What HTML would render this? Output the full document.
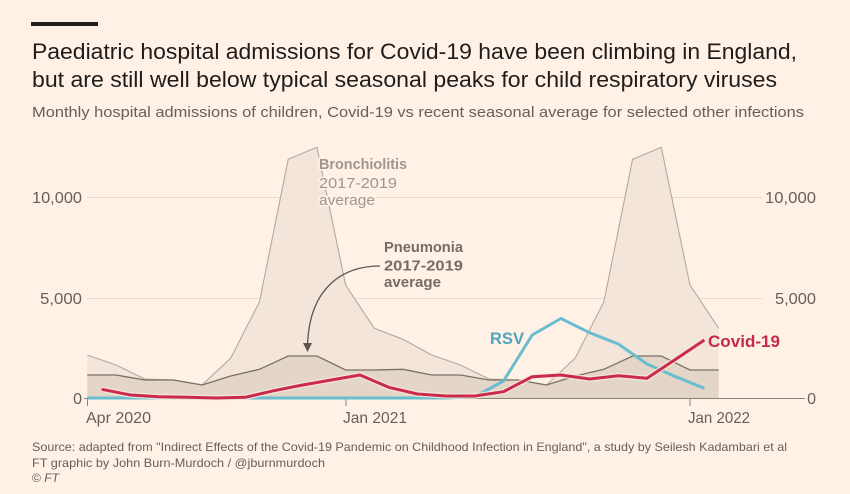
<!DOCTYPE html>
<html>
<head>
<meta charset="utf-8">
<style>
  html, body { margin:0; padding:0; background:#FFF1E5; }
  svg { display:block; }
  text { font-family: "Liberation Sans", "DejaVu Sans", sans-serif; }
</style>
</head>
<body>
<svg width="850" height="494" viewBox="0 0 850 494" xmlns="http://www.w3.org/2000/svg">
  <rect x="0" y="0" width="850" height="494" fill="#FFF1E5"/>

  <!-- top bar -->
  <rect x="31" y="22" width="67" height="4" fill="#1f1d1c"/>

  <!-- title -->
  <text x="32" y="59" font-size="22" fill="#1f1d1c" textLength="765" lengthAdjust="spacingAndGlyphs">Paediatric hospital admissions for Covid-19 have been climbing in England,</text>
  <text x="32" y="87" font-size="22" fill="#1f1d1c" textLength="745" lengthAdjust="spacingAndGlyphs">but are still well below typical seasonal peaks for child respiratory viruses</text>
  <text x="32" y="117" font-size="15" fill="#66605C" textLength="772" lengthAdjust="spacingAndGlyphs">Monthly hospital admissions of children, Covid-19 vs recent seasonal average for selected other infections</text>

  <!-- gridlines -->
  <line x1="87" y1="197.5" x2="762" y2="197.5" stroke="#E8DBD0" stroke-width="1"/>
  <line x1="87" y1="298.5" x2="762" y2="298.5" stroke="#E8DBD0" stroke-width="1"/>

  <!-- bronchiolitis area -->
  <polygon fill="#F3E5D9" points="87.3,355 116.0,365 144.7,379 173.4,380 202.1,385 230.8,358 259.5,301.7 288.2,159.3 316.9,147.3 345.6,285 374.3,328.3 403.0,339.3 431.7,355 460.4,365 489.1,379 517.8,380 546.5,385 575.2,358 603.9,301.7 632.6,159.3 661.3,147.3 690.0,285 718.7,328.3 718.7,398 87.3,398"/>
  <polyline fill="none" stroke="#B3A9A1" stroke-width="1.1" points="87.3,355 116.0,365 144.7,379 173.4,380 202.1,385 230.8,358 259.5,301.7 288.2,159.3 316.9,147.3 345.6,285 374.3,328.3 403.0,339.3 431.7,355 460.4,365 489.1,379 517.8,380 546.5,385 575.2,358 603.9,301.7 632.6,159.3 661.3,147.3 690.0,285 718.7,328.3"/>

  <!-- pneumonia area -->
  <polygon fill="#E4D5C9" points="87.3,375 116.0,375 144.7,380 173.4,380 202.1,385 230.8,376 259.5,369.3 288.2,356 316.9,356 345.6,370 374.3,370 403.0,369.3 431.7,375 460.4,375 489.1,380 517.8,380 546.5,385 575.2,376 603.9,369.3 632.6,356 661.3,356 690.0,370 718.7,370 718.7,398 87.3,398"/>
  <polyline fill="none" stroke="#7A6F67" stroke-width="1.3" points="87.3,375 116.0,375 144.7,380 173.4,380 202.1,385 230.8,376 259.5,369.3 288.2,356 316.9,356 345.6,370 374.3,370 403.0,369.3 431.7,375 460.4,375 489.1,380 517.8,380 546.5,385 575.2,376 603.9,369.3 632.6,356 661.3,356 690.0,370 718.7,370"/>

  <!-- baseline -->
  <line x1="84" y1="398.5" x2="805" y2="398.5" stroke="#8A817B" stroke-width="1"/>
  <!-- ticks -->
  <line x1="87.5" y1="398" x2="87.5" y2="406" stroke="#8A817B" stroke-width="1"/>
  <line x1="346" y1="398" x2="346" y2="406" stroke="#8A817B" stroke-width="1"/>
  <line x1="690" y1="398" x2="690" y2="406" stroke="#8A817B" stroke-width="1"/>

  <!-- RSV line -->
  <polyline fill="none" stroke="#6ABDCF" stroke-width="3" stroke-linejoin="round" points="87.3,398 446.1,398 474.8,396.7 503.5,381 532.2,335 560.9,318.5 589.6,332.7 618.3,344 647.0,364 675.7,376.7 704.4,388.3"/>

  <!-- Covid line -->
  <polyline fill="none" stroke="#F8EAE0" stroke-width="5.5" stroke-linejoin="round" opacity="0.8" points="101.7,389.3 130.4,395 159.1,396.7 187.8,397.3 216.5,398 245.2,397.3 273.9,390.7 302.6,385 331.3,380 360.0,375 388.7,387.3 417.4,394 446.1,396 474.8,396 503.5,391.7 532.2,376.7 560.9,375 589.6,379 618.3,375.7 647.0,378.3 675.7,359.3 704.4,340"/>
  <polyline fill="none" stroke="#CC2A4B" stroke-width="3" stroke-linejoin="round" points="101.7,389.3 130.4,395 159.1,396.7 187.8,397.3 216.5,398 245.2,397.3 273.9,390.7 302.6,385 331.3,380 360.0,375 388.7,387.3 417.4,394 446.1,396 474.8,396 503.5,391.7 532.2,376.7 560.9,375 589.6,379 618.3,375.7 647.0,378.3 675.7,359.3 704.4,340"/>

  <!-- y axis labels left -->
  <g font-size="16" fill="#66605C" text-anchor="end">
    <text x="82" y="203" textLength="50" lengthAdjust="spacingAndGlyphs">10,000</text>
    <text x="82" y="304" textLength="42" lengthAdjust="spacingAndGlyphs">5,000</text>
    <text x="82" y="404">0</text>
  </g>
  <!-- y axis labels right -->
  <g font-size="16" fill="#66605C" text-anchor="end">
    <text x="816" y="203" textLength="51" lengthAdjust="spacingAndGlyphs">10,000</text>
    <text x="816" y="304" textLength="41" lengthAdjust="spacingAndGlyphs">5,000</text>
    <text x="816" y="404">0</text>
  </g>

  <!-- x axis labels -->
  <g font-size="16" fill="#66605C">
    <text x="86" y="423" textLength="65" lengthAdjust="spacingAndGlyphs">Apr 2020</text>
    <text x="343" y="423" textLength="64" lengthAdjust="spacingAndGlyphs">Jan 2021</text>
    <text x="688" y="423" textLength="62" lengthAdjust="spacingAndGlyphs">Jan 2022</text>
  </g>

  <!-- Bronchiolitis label -->
  <g font-size="15" font-weight="bold" fill="#A0968E" stroke="#FFF1E5" stroke-width="3" paint-order="stroke" stroke-linejoin="round">
    <text x="319" y="169" textLength="88" lengthAdjust="spacingAndGlyphs">Bronchiolitis</text>
    <text x="319" y="188" textLength="78" lengthAdjust="spacingAndGlyphs" font-weight="normal">2017-2019</text>
    <text x="319" y="205" textLength="56" lengthAdjust="spacingAndGlyphs" font-weight="normal">average</text>
  </g>

  <!-- Pneumonia label -->
  <g font-size="15" font-weight="bold" fill="#776C64">
    <text x="384" y="252" textLength="79" lengthAdjust="spacingAndGlyphs">Pneumonia</text>
    <text x="384" y="270.5" textLength="79" lengthAdjust="spacingAndGlyphs">2017-2019</text>
    <text x="384" y="287" textLength="57" lengthAdjust="spacingAndGlyphs">average</text>
  </g>

  <!-- arrow -->
  <path d="M380,266 C345,266 310,285 307.5,344" fill="none" stroke="#5E5650" stroke-width="1.3"/>
  <polygon points="303,343 312,343 307.5,352" fill="#5E5650"/>

  <!-- series labels -->
  <text x="490" y="344" font-size="17" font-weight="bold" fill="#4CA7BC" textLength="34" lengthAdjust="spacingAndGlyphs">RSV</text>
  <text x="708" y="347" font-size="17" font-weight="bold" fill="#C8284A" textLength="72" lengthAdjust="spacingAndGlyphs">Covid-19</text>

  <!-- source -->
  <g font-size="12" fill="#66605C">
    <text x="32" y="451" textLength="755" lengthAdjust="spacingAndGlyphs">Source: adapted from "Indirect Effects of the Covid-19 Pandemic on Childhood Infection in England",  a study by Seilesh Kadambari et al</text>
    <text x="32" y="467" textLength="293" lengthAdjust="spacingAndGlyphs">FT graphic by John Burn-Murdoch / @jburnmurdoch</text>
    <text x="32" y="482" textLength="27" lengthAdjust="spacingAndGlyphs">© <tspan font-style="italic">FT</tspan></text>
  </g>
</svg>
</body>
</html>
